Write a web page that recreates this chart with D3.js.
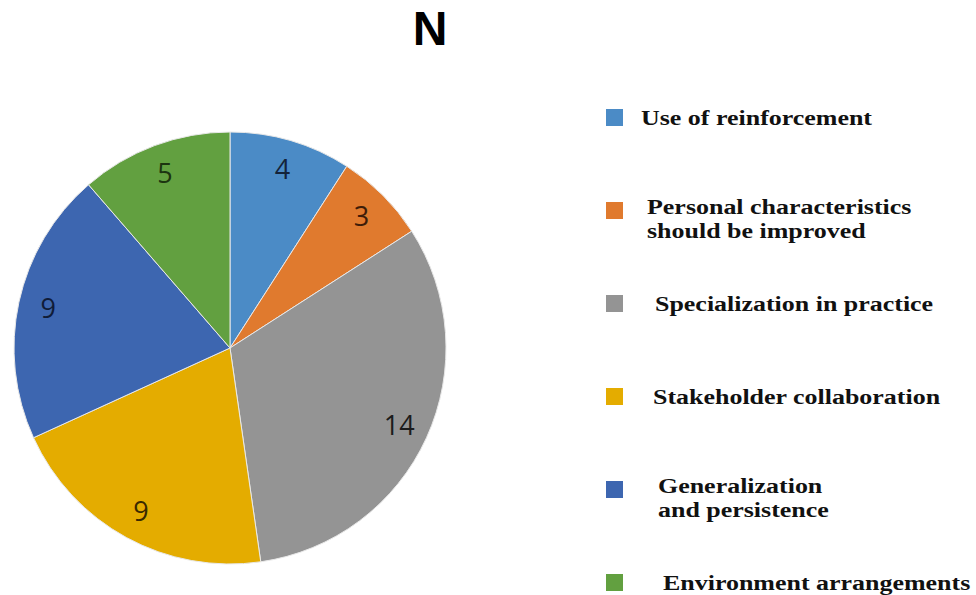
<!DOCTYPE html>
<html>
<head>
<meta charset="utf-8">
<script src="https://cdn.jsdelivr.net/npm/d3@7"></script>
<style>
  body { margin: 0; background: #fff; }
</style>
</head>
<body>
<div id="chart"></div>
<script>
// data
var categories = ["Use of reinforcement", "Personal characteristics should be improved",
    "Specialization in practice", "Stakeholder collaboration",
    "Generalization and persistence", "Environment arrangements"];
var values = [4, 3, 14, 9, 9, 5];
var legendLines = [["Use of reinforcement"], ["Personal characteristics", "should be improved"],
    ["Specialization in practice"], ["Stakeholder collaboration"],
    ["Generalization", "and persistence"], ["Environment arrangements"]];
var colors = ["#4b8bc6", "#e07a2e", "#949494", "#e4ac00", "#3d66b0", "#62a040"];
var labelColors = ["#14233a", "#3e1c08", "#1c1c1c", "#3a2a00", "#101c38", "#1c3410"];

var width = 976, height = 595;
var cx = 230, cy = 348, radius = 216;

var svg = d3.select("#chart").append("svg")
    .attr("width", width)
    .attr("height", height);

// title
svg.append("text")
    .attr("x", 430).attr("y", 45)
    .attr("text-anchor", "middle")
    .style("font-family", "'Liberation Sans', Arial, sans-serif")
    .style("font-weight", "bold")
    .style("font-size", "48px")
    .style("fill", "#000")
    .text("N");

var pie = d3.pie().sort(null).value(function(d) { return d; });
var arcs = pie(values);

var arc = d3.arc().innerRadius(0).outerRadius(radius);
var labelArc = d3.arc().innerRadius(186).outerRadius(186);

var g = svg.append("g").attr("transform", "translate(" + cx + "," + cy + ")");

g.selectAll("path.slice")
    .data(arcs)
    .enter().append("path")
    .attr("class", "slice")
    .attr("d", arc)
    .style("fill", function(d, i) { return colors[i]; })
    .style("stroke", "#e8e8e8")
    .style("stroke-width", 1);

g.selectAll("text.lbl")
    .data(arcs)
    .enter().append("text")
    .attr("class", "lbl")
    .attr("transform", function(d) { return "translate(" + labelArc.centroid(d) + ")"; })
    .attr("text-anchor", "middle")
    .attr("dy", "0.36em")
    .style("font-family", "'Open Sans', 'Liberation Sans', sans-serif")
    .style("font-size", "27px")
    .style("fill", function(d, i) { return labelColors[i]; })
    .text(function(d) { return d.data; });

// legend, positions follow the loose spacing of the original
var legendY = [117, 210, 303, 396, 489, 582];
var legendTextX = [641, 647, 655, 653, 658, 663];

var leg = svg.append("g");
legendLines.forEach(function(lines, i) {
    leg.append("rect")
        .attr("x", 606).attr("y", legendY[i] - 8)
        .attr("width", 17).attr("height", 17)
        .style("fill", colors[i]);
    // the original text is stretched sideways
    var t = leg.append("g")
        .attr("transform", "translate(" + legendTextX[i] + ",0) scale(1.18,1)")
        .append("text")
        .style("font-family", "'Liberation Serif', 'Times New Roman', serif")
        .style("font-weight", "bold")
        .style("font-size", "22px")
        .style("fill", "#111");
    var base = lines.length > 1 ? legendY[i] + 4 : legendY[i] + 8;
    lines.forEach(function(s, k) {
        t.append("tspan")
            .attr("x", 0)
            .attr("y", base + k * 24)
            .text(s);
    });
});
</script>
</body>
</html>
